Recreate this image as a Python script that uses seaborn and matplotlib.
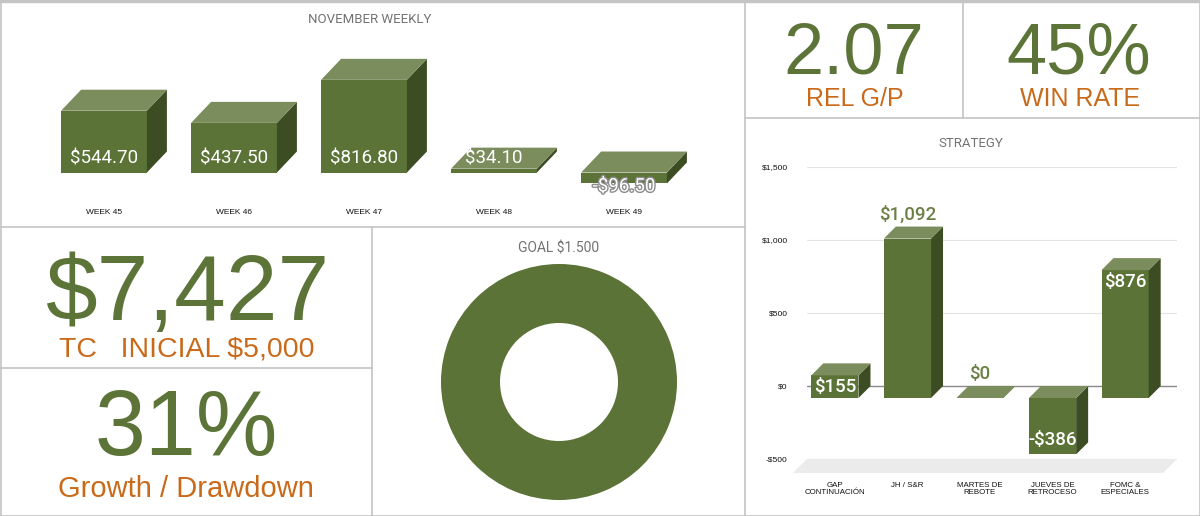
import numpy as np
import matplotlib
matplotlib.use("Agg")
import matplotlib.pyplot as plt
from matplotlib.patches import Polygon
from matplotlib.lines import Line2D
import matplotlib.patheffects as pe
import seaborn as sns

# ==========================================
# DATA
# ==========================================
WEEKS = ["WEEK 45", "WEEK 46", "WEEK 47", "WEEK 48", "WEEK 49"]
WEEKLY_PNL = [544.70, 437.50, 816.80, 34.10, -96.50]

STRATEGIES = ["GAP\nCONTINUACIÓN", "JH / S&R", "MARTES DE\nREBOTE",
              "JUEVES DE\nRETROCESO", "FOMC &\nESPECIALES"]
STRATEGY_PNL = [155, 1092, 0, -386, 876]
STRATEGY_TICKS = [-500, 0, 500, 1000, 1500]

BALANCE = 7427
INITIAL = 5000
GROWTH_PCT = 31
REL_GP = 2.07
WIN_RATE = 45
GOAL = 1500

# ==========================================
# STYLE
# ==========================================
W, H = 1200, 516
FRONT = "#5b7336"
TOP = "#7b8c5d"
SIDE = "#3c4c23"
GREEN_TXT = "#5c7438"
ORANGE = "#c96a1b"
TITLE_GREY = "#737373"
BORDER = "#c4c4c4"

sns.set_theme(style="white")
plt.rcParams["font.family"] = ["Liberation Sans", "DejaVu Sans"]

fig = plt.figure(figsize=(W / 100, H / 100), dpi=100)
fig.patch.set_facecolor("white")


def px_axes(x0, y0, x1, y1):
    return fig.add_axes([x0 / W, 1 - y1 / H, (x1 - x0) / W, (y1 - y0) / H])


def px_text(x, y, s, **kw):
    kw.setdefault("ha", "center")
    kw.setdefault("va", "baseline")
    fig.text(x / W, 1 - y / H, s, **kw)


def px_line(x0, y0, x1, y1, lw=1.2):
    fig.add_artist(Line2D([x0 / W, x1 / W], [1 - y0 / H, 1 - y1 / H],
                          color=BORDER, lw=lw, zorder=10))


def fmt_money(v, dec=0):
    s = f"${abs(v):,.{dec}f}"
    return "-" + s if v < 0 else s


def bars_3d(ax, cats, vals, width, dx, dy, shift=(0.0, 0.0)):
    # front faces come from seaborn, top and side faces are added on top
    sns.barplot(x=cats, y=vals, color=FRONT, width=width, saturation=1,
                errorbar=None, linewidth=0, ax=ax, zorder=3)
    for p in ax.patches[:len(vals)]:
        p.set_x(p.get_x() - shift[0])
        p.set_y(p.get_y() - shift[1])
        x0 = p.get_x()
        x1 = x0 + p.get_width()
        lo = min(p.get_y(), p.get_y() + p.get_height())
        hi = max(p.get_y(), p.get_y() + p.get_height())
        ax.add_patch(Polygon([(x1, lo), (x1 + dx, lo + dy), (x1 + dx, hi + dy), (x1, hi)],
                             closed=True, facecolor=SIDE, lw=0, zorder=3))
        ax.add_patch(Polygon([(x0, hi), (x1, hi), (x1 + dx, hi + dy), (x0 + dx, hi + dy)],
                             closed=True, facecolor=TOP, lw=0, zorder=3))


# ==========================================
# NOVEMBER WEEKLY
# ==========================================
ax_w = px_axes(39, 36, 689, 206)
w_ylim = (-295, 1203)
w_ky = (w_ylim[1] - w_ylim[0]) / 170.0      # $ per pixel
w_kx = 5.0 / 650.0                          # category units per pixel
bars_3d(ax_w, WEEKS, WEEKLY_PNL, 0.66, 20 * w_kx, 21 * w_ky)
ax_w.set_xlim(-0.5, 4.5)
ax_w.set_ylim(*w_ylim)
ax_w.set_yticks([])
ax_w.set_xticks(range(len(WEEKS)), WEEKS, fontsize=6, color="#111111")
ax_w.tick_params(axis="x", length=0, pad=2)
ax_w.set_xlabel("")
ax_w.set_ylabel("")
sns.despine(ax=ax_w, left=True, bottom=True)
for i, v in enumerate(WEEKLY_PNL):
    t = ax_w.text(i, 123 * np.sign(v), fmt_money(v, 2), ha="center", va="center",
                  color="white", fontsize=13.5, family="Roboto", zorder=5)
    if v < 0:
        t.set_path_effects([pe.withStroke(linewidth=2, foreground="#8c8c8c")])
px_text(370, 23, "NOVEMBER WEEKLY", color=TITLE_GREY, fontsize=9.5, family="Roboto")

# ==========================================
# STRATEGY
# ==========================================
ax_s = px_axes(807, 159.7, 1177, 473.6)
s_xlim = (-0.55, 4.55)
s_ylim = (-600, 1550)
s_kx = (s_xlim[1] - s_xlim[0]) / 370.0
s_ky = (s_ylim[1] - s_ylim[0]) / (473.6 - 159.7)
sdx, sdy = 12 * s_kx, 12 * s_ky
ax_s.set_axisbelow(True)
bars_3d(ax_s, STRATEGIES, STRATEGY_PNL, 0.65, sdx, sdy, shift=(sdx, sdy))
ax_s.set_xlim(*s_xlim)
ax_s.set_ylim(*s_ylim)
ax_s.yaxis.grid(True, color="#e4e4e4", lw=0.8)
ax_s.xaxis.grid(False)
ax_s.axhline(0, color="#8a8a8a", lw=1, zorder=2)
fdx, fdy = 14 * s_kx, 14 * s_ky
ax_s.add_patch(Polygon([(s_xlim[0], -500), (s_xlim[1], -500),
                        (s_xlim[1] - fdx, -500 - fdy), (s_xlim[0] - fdx, -500 - fdy)],
                       closed=True, facecolor="#ebebeb", lw=0, zorder=1, clip_on=False))
ax_s.set_yticks(STRATEGY_TICKS, [fmt_money(v) for v in STRATEGY_TICKS],
                fontsize=6, color="#111111")
ax_s.set_xticks([i - sdx for i in range(len(STRATEGIES))], STRATEGIES,
                fontsize=5.7, color="#111111", linespacing=0.95)
ax_s.tick_params(axis="y", length=0, pad=14)
ax_s.tick_params(axis="x", length=0, pad=6)
ax_s.set_xlabel("")
ax_s.set_ylabel("")
sns.despine(ax=ax_s, left=True, bottom=True)
outside = {1, 2}
for i, v in enumerate(STRATEGY_PNL):
    if i in outside:
        y, col = max(v, 0) + 12 * s_ky, "#6b8045"
    elif v >= 0:
        y, col = v - sdy - 12 * s_ky, "white"
    else:
        y, col = v - sdy + 14 * s_ky, "white"
    ax_s.text(i - sdx, y, fmt_money(v), ha="center", va="center", color=col,
              fontsize=13.5, family="Roboto", fontweight="medium", zorder=5)
px_text(971, 147, "STRATEGY", color=TITLE_GREY, fontsize=9.5, family="Roboto")

# ==========================================
# GOAL DONUT
# ==========================================
achieved = min(sum(WEEKLY_PNL), GOAL)
ax_g = px_axes(441, 264, 677, 500)
ax_g.pie([achieved, GOAL - achieved], colors=[FRONT, "#e0e0e0"], radius=1,
         startangle=90, counterclock=False,
         wedgeprops=dict(width=0.5, linewidth=0))
ax_g.set_xlim(-1, 1)
ax_g.set_ylim(-1, 1)
ax_g.axis("off")
px_text(559, 252, f"GOAL ${GOAL // 1000}.{GOAL % 1000:03d}", color=TITLE_GREY,
        fontsize=10, family="Roboto")

# ==========================================
# KPI CELLS
# ==========================================
px_text(187, 320, fmt_money(BALANCE), color=GREEN_TXT, fontsize=67)
px_text(187, 357, f"TC   INICIAL {fmt_money(INITIAL)}", color=ORANGE, fontsize=20.5)
px_text(186, 455, f"{GROWTH_PCT}%", color=GREEN_TXT, fontsize=66)
px_text(186, 497, "Growth / Drawdown", color=ORANGE, fontsize=21)
px_text(854, 73, f"{REL_GP:.2f}", color=GREEN_TXT, fontsize=52)
px_text(855, 106, "REL G/P", color=ORANGE, fontsize=18)
px_text(1079, 73, f"{WIN_RATE}%", color=GREEN_TXT, fontsize=52)
px_text(1080, 106, "WIN RATE", color=ORANGE, fontsize=18)

# ==========================================
# CELL BORDERS
# ==========================================
px_line(0, 1, 1200, 1, lw=2.5)
px_line(0.5, 0, 0.5, 516)
px_line(1199.5, 0, 1199.5, 516)
px_line(0, 515.5, 1200, 515.5)
px_line(745, 0, 745, 516)
px_line(0, 227, 745, 227)
px_line(372, 227, 372, 516)
px_line(0, 368, 372, 368)
px_line(963, 0, 963, 118)
px_line(745, 118, 1200, 118)

fig.savefig("out.png", dpi=100, facecolor="white")
